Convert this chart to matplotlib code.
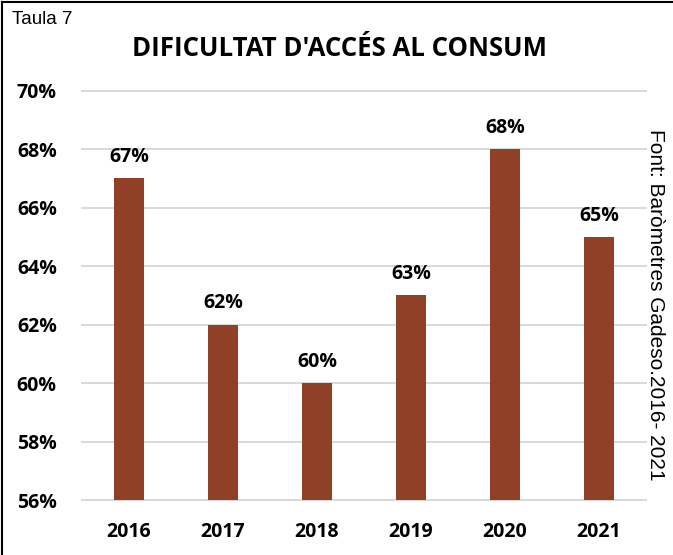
import matplotlib.pyplot as plt
from matplotlib.lines import Line2D

years = ["2016", "2017", "2018", "2019", "2020", "2021"]
values = [67, 62, 60, 63, 68, 65]
y_ticks = [56, 58, 60, 62, 64, 66, 68, 70]

BAR = "#8f4026"
GRID = "#d9d9d9"
BOLD = "Open Sans"

fig = plt.figure(figsize=(6.73, 5.55), dpi=100)
ax = fig.add_axes([81.8 / 673, 1 - 500 / 555, (646 - 81.8) / 673, (500 - 90.7) / 555])

bars = ax.bar(years, values, width=0.316, color=BAR, zorder=2)
ax.set_ylim(56, 70)
ax.set_xlim(-0.5, len(years) - 0.5)
ax.set_yticks(y_ticks)
ax.set_yticklabels([f"{t}%" for t in y_ticks], fontfamily=BOLD, fontweight="bold", fontsize=14)
for lab in ax.get_xticklabels():
    lab.set_fontfamily(BOLD)
    lab.set_fontweight("bold")
    lab.set_fontsize(14)

ax.tick_params(axis="y", length=0, pad=18)
ax.tick_params(axis="x", length=0, pad=16)
for s in ax.spines.values():
    s.set_visible(False)
ax.set_axisbelow(True)
ax.yaxis.grid(True, color=GRID, linewidth=1.4)
for gl in ax.get_ygridlines():
    gl.set_clip_on(False)

ax.bar_label(bars, labels=[f"{v}%" for v in values], padding=8,
             fontfamily=BOLD, fontweight="bold", fontsize=14)

fig.text(0.504, 1 - 49 / 555, "DIFICULTAT D'ACCÉS AL CONSUM", ha="center", va="center",
         fontfamily=BOLD, fontweight="bold", fontsize=18.5)
fig.text(12 / 673, 1 - 20 / 555, "Taula 7", ha="left", va="center",
         fontfamily="Liberation Sans", fontsize=13.5)
fig.text(656 / 673, 1 - 305 / 555, "Font: Baròmetres Gadeso.2016- 2021", rotation=-90,
         ha="center", va="center", fontfamily="Liberation Sans", fontsize=15)

# frame around the figure (top and left edges visible in the original)
fig.add_artist(Line2D([2 / 673, 2 / 673], [0, 1 - 2 / 555], color="black", linewidth=1.5))
fig.add_artist(Line2D([2 / 673, 1], [1 - 2 / 555, 1 - 2 / 555], color="black", linewidth=1.5))

fig.savefig("out.png", dpi=100)
